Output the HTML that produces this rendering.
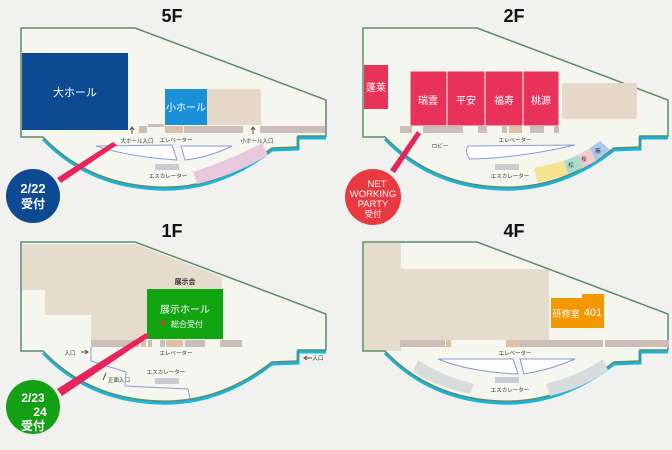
<!DOCTYPE html>
<html><head><meta charset="utf-8"><style>
html,body{margin:0;padding:0;background:#f1f1ef;}
svg{display:block;}
text{font-family:"Liberation Sans","Noto Sans CJK JP",sans-serif;}
</style></head><body>
<svg width="672" height="450" viewBox="0 0 672 450" xmlns="http://www.w3.org/2000/svg">
<defs>
<path id="fl" d="M21,28 L135,28 L326,100 L326,136 L298,136 L298,147 L272,148 Q218,190 157,187 Q88,184 43,137 L21,137 Z"/>
<path id="bt" d="M326,136 L298,136 L298,147 L272,148 Q218,190 157,187 Q88,184 43,137"/>
</defs>
<rect width="672" height="450" fill="#f1f1ef"/>
<g font-size="18" fill="#111" text-anchor="middle" font-weight="bold">
<text x="172" y="22">5F</text><text x="514" y="22">2F</text>
<text x="172" y="237">1F</text><text x="514" y="237">4F</text>
</g>
<g>
<use href="#fl" fill="#f5f7ee"/><use href="#bt" fill="none" stroke="#18b4dc" stroke-width="3" transform="translate(0,2)"/><use href="#fl" fill="none" stroke="#5c8c6e" stroke-width="1.5"/>
</g>
<g transform="translate(342,0)">
<use href="#fl" fill="#f5f7ee"/><use href="#bt" fill="none" stroke="#18b4dc" stroke-width="3" transform="translate(0,2)"/><use href="#fl" fill="none" stroke="#5c8c6e" stroke-width="1.5"/>
</g>
<g transform="translate(0,214)">
<use href="#fl" fill="#f5f7ee"/><use href="#bt" fill="none" stroke="#18b4dc" stroke-width="3" transform="translate(0,2)"/>
<polygon points="22,30 135,30 222,63 222,76 147,76 147,126 91,126 91,101 45,101 45,76 22,76" fill="#e6dccd"/>
<use href="#fl" fill="none" stroke="#5c8c6e" stroke-width="1.5"/>
</g>
<g transform="translate(342,214)">
<use href="#fl" fill="#f5f7ee"/><use href="#bt" fill="none" stroke="#18b4dc" stroke-width="3" transform="translate(0,2)"/>
<rect x="22" y="29" width="37" height="108" fill="#e6dccd"/>
<rect x="59" y="55" width="148" height="71" fill="#e6dccd"/>
<use href="#fl" fill="none" stroke="#5c8c6e" stroke-width="1.5"/>
</g>

<!-- 5F -->
<rect x="22" y="53" width="106" height="77" fill="#0d4a92"/>
<text x="75" y="96" fill="#fff" font-size="11" text-anchor="middle">大ホール</text>
<rect x="165" y="89" width="42" height="36" fill="#1a90d8"/>
<text x="186" y="111" fill="#fff" font-size="10" text-anchor="middle">小ホール</text>
<rect x="207" y="89" width="54" height="36" fill="#e6d8c8"/>
<g fill="#cdbdb8">
<rect x="139" y="126" width="8" height="7"/><rect x="148" y="124" width="16" height="3"/><rect x="165" y="126" width="18" height="7" fill="#dcc0a8"/><rect x="184" y="126" width="59" height="7"/><rect x="260" y="126" width="65" height="7"/>
</g>
<g fill="#333" font-size="5.5" text-anchor="middle">
<text x="137" y="143">大ホール入口</text><text x="176" y="142">エレベーター</text><text x="257" y="143">小ホール入口</text><text x="168" y="178">エスカレーター</text>
</g>
<path d="M132,134 v-6 M130,130 l2,-3 l2,3 M253,134 v-6 M251,130 l2,-3 l2,3" stroke="#6a4a30" fill="none"/>
<g fill="#fff" stroke="#8a9ad8" stroke-width="1">
<path d="M96,146 L172,145 L177,160 Q130,157 96,146 Z"/><path d="M181,146 L232,146 Q210,157 185,160 Z"/>
</g>
<rect x="155" y="164" width="24" height="6" fill="#c8ccd0"/>
<path d="M193,172 Q230,160 262,143 L268,155 Q235,175 197,184 Z" fill="#e8c8dc"/>
<polygon points="113,142 117,145 61,183 57,178" fill="#e8245c"/>
<circle cx="33" cy="196" r="27" fill="#0d4a92"/>
<text x="33" y="193" fill="#fff" font-size="13" text-anchor="middle" font-weight="bold">2/22</text>
<text x="33" y="208" fill="#fff" font-size="12" text-anchor="middle" font-weight="bold">受付</text>

<!-- 2F -->
<rect x="364" y="65" width="24" height="44" fill="#e8325a"/>
<text x="376" y="91" fill="#fff" font-size="10" text-anchor="middle">蓬莱</text>
<g fill="#e8325a" stroke="#f6f7ee" stroke-width="1">
<rect x="410" y="71" width="37" height="55"/><rect x="447" y="71" width="38" height="55"/><rect x="485" y="71" width="38" height="55"/><rect x="523" y="71" width="36" height="55"/>
</g>
<g fill="#fff" font-size="10" text-anchor="middle">
<text x="428" y="104">瑞雲</text><text x="466" y="104">平安</text><text x="504" y="104">福寿</text><text x="541" y="104">桃源</text>
</g>
<rect x="562" y="83" width="75" height="36" fill="#e6d8c8"/>
<g fill="#cdbdb8">
<rect x="400" y="126" width="12" height="7"/><rect x="423" y="126" width="40" height="7"/><rect x="478" y="126" width="9" height="7"/><rect x="502" y="126" width="5" height="7"/><rect x="509" y="126" width="13" height="7" fill="#dcc0a8"/><rect x="530" y="126" width="14" height="7"/><rect x="554" y="126" width="5" height="7"/>
</g>
<g fill="#333" font-size="5.5" text-anchor="middle">
<text x="440" y="148">ロビー</text><text x="515" y="142">エレベーター</text><text x="510" y="178">エスカレーター</text>
</g>
<path d="M468,146 L575,145 Q520,158 470,159 Q464,152 468,146 Z" fill="#fff" stroke="#8a9ad8"/>
<rect x="495" y="164" width="24" height="6" fill="#c8ccd0"/>
<path d="M534,168 L564,161 L568,174 L538,183 Z" fill="#f4e490"/>
<path d="M564,161 L578,155 L583,168 L568,174 Z" fill="#a8dccc"/>
<path d="M578,155 L590,148 L596,161 L583,168 Z" fill="#f4cad0"/>
<path d="M590,148 L600,141 L610,150 L596,161 Z" fill="#a8c8ec"/>
<g fill="#333" font-size="5.5" text-anchor="middle"><text x="571" y="167">松</text><text x="584" y="161">桜</text><text x="598" y="153">藤</text></g>
<polygon points="417,131 421,134 395,173 390,170" fill="#e8245c"/>
<circle cx="373" cy="197" r="28" fill="#e83a40"/>
<g fill="#fff" font-size="9.5" text-anchor="middle">
<text x="377" y="187">NET</text><text x="373" y="197">WORKING</text><text x="373" y="207">PARTY</text><text x="373" y="217" font-size="8.5">受付</text>
</g>

<!-- 1F -->
<text x="185" y="284" fill="#333" font-size="7" text-anchor="middle" font-weight="bold">展示会</text>
<rect x="147" y="289" width="76" height="50" fill="#12a512"/>
<text x="185" y="313" fill="#fff" font-size="10" text-anchor="middle">展示ホール</text>
<circle cx="163" cy="323" r="2" fill="#e8245c"/>
<text x="187" y="327" fill="#fff" font-size="8" text-anchor="middle">総合受付</text>
<g fill="#cdbdb8">
<rect x="91" y="340" width="48" height="7"/><rect x="141" y="340" width="5" height="7" fill="#dcc0a8"/><rect x="148" y="340" width="4" height="7"/><rect x="160" y="340" width="5" height="7"/><rect x="166" y="340" width="17" height="7" fill="#dcc0a8"/><rect x="185" y="340" width="20" height="7"/><rect x="220" y="340" width="22" height="7"/>
</g>
<g fill="#333" font-size="5.5" text-anchor="middle">
<text x="176" y="355">エレベーター</text><text x="166" y="374">エスカレーター</text><text x="70" y="355">入口</text><text x="318" y="360">入口</text><text x="119" y="382">正面入口</text>
</g>
<path d="M81,352 h7 M85,350 l3,2 l-3,2 M304,358 h8 M307,356 l-3,2 l3,2 M103,380 l3,-7" stroke="#6a4a30" fill="none"/>
<rect x="155" y="378" width="24" height="6" fill="#c8ccd0"/>
<path d="M91,347 L91,361 L126,372 L125,386 L188,389 L190,398" fill="none" stroke="#8a9ad8"/>
<polygon points="146,333 149,337 62,396 57,389" fill="#e8245c"/>
<circle cx="33" cy="407" r="27" fill="#14a014"/>
<g fill="#fff" font-size="12" text-anchor="middle" font-weight="bold">
<text x="33" y="402">2/23</text><text x="40" y="416">24</text><text x="33" y="430">受付</text>
</g>

<!-- 4F -->
<rect x="551" y="298" width="31" height="30" fill="#f39800"/>
<rect x="582" y="294" width="22" height="34" fill="#f39800"/>
<text x="566" y="317" fill="#fff" font-size="9" text-anchor="middle">研修室</text>
<text x="593" y="316" fill="#fff" font-size="11" text-anchor="middle">401</text>
<g fill="#cdbdb8">
<rect x="400" y="340" width="45" height="7"/><rect x="446" y="340" width="5" height="7" fill="#dcc0a8"/><rect x="506" y="340" width="14" height="7" fill="#dcc0a8"/><rect x="520" y="340" width="83" height="7"/><rect x="605" y="340" width="64" height="7"/>
</g>
<g fill="#333" font-size="5.5" text-anchor="middle"><text x="515" y="355">エレベーター</text><text x="510" y="392">エスカレーター</text></g>
<g fill="#fff" stroke="#8a9ad8" stroke-width="1">
<path d="M438,359 L513,359 L518,374 Q470,372 438,359 Z"/><path d="M520,359 L575,359 Q550,370 524,374 Z"/>
</g>
<rect x="495" y="377" width="24" height="6" fill="#c8ccd0"/>
<path d="M418,360 Q440,375 474,384 L470,394 Q440,388 413,372 Z" fill="#d8dcdc"/>
<path d="M546,384 Q580,375 603,359 L608,370 Q584,388 550,396 Z" fill="#d8dcdc"/>
</svg>
</body></html>
